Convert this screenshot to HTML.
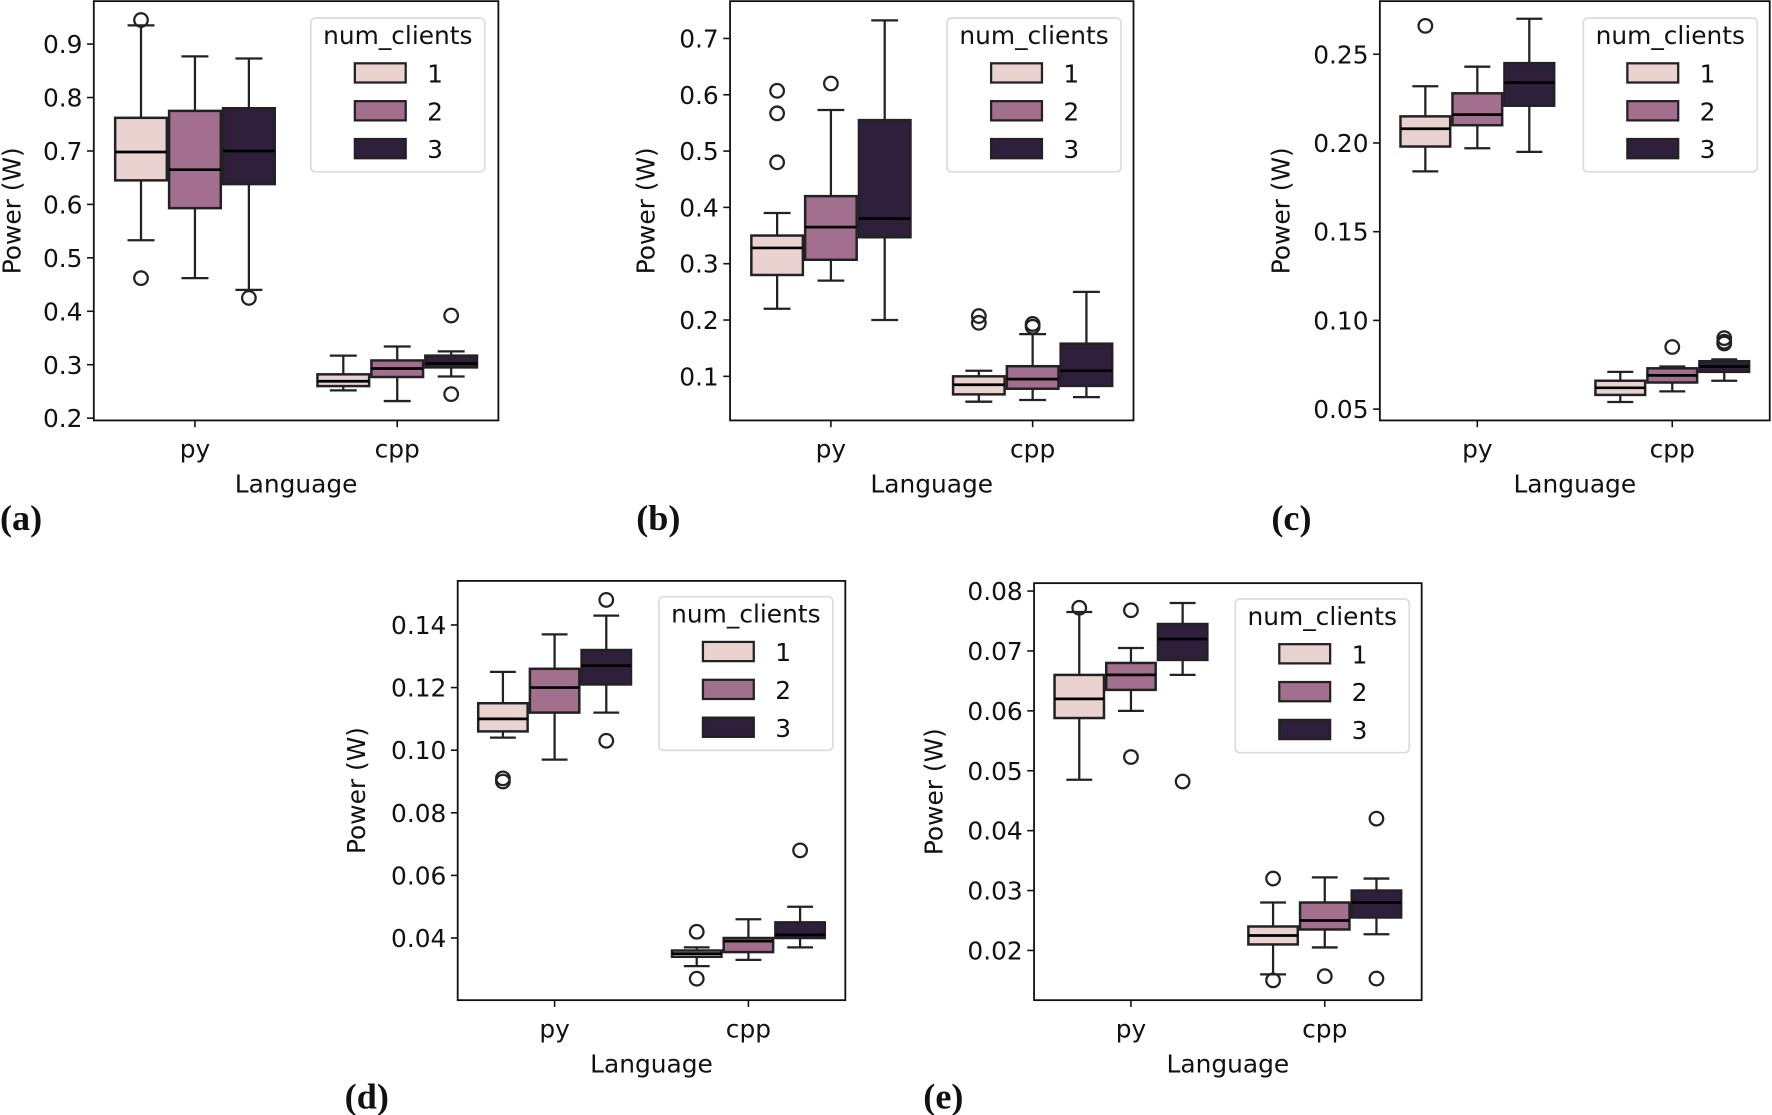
<!DOCTYPE html>
<html><head><meta charset="utf-8"><style>
html,body{margin:0;padding:0;background:#fff;}
svg{display:block;}
text{font-family:"DejaVu Sans","Liberation Sans",sans-serif;fill:#111;}
.pl{font-family:"Liberation Serif",serif;font-weight:bold;}
</style></head><body>
<svg id="fig" width="1772" height="1115" viewBox="0 0 1568 986.6" xmlns="http://www.w3.org/2000/svg"></svg>
<script>
// data: each box = [q1, median, q3, whiskerLow, whiskerHigh]; order py1,py2,py3,cpp1,cpp2,cpp3
const categories = ["py","cpp"];
const hueLevels = ["1","2","3"];
const statsA = [[0.645,0.698,0.762,0.533,0.935],[0.593,0.665,0.775,0.462,0.877],[0.638,0.70,0.78,0.44,0.873],[0.26,0.269,0.282,0.252,0.317],[0.277,0.293,0.308,0.232,0.334],[0.295,0.302,0.317,0.278,0.325]];
const outA = [[0.945,0.462],[],[0.425],[],[],[0.392,0.245]];
const ticksA = [0.2,0.3,0.4,0.5,0.6,0.7,0.8,0.9];
const statsB = [[0.28,0.328,0.35,0.22,0.39],[0.307,0.365,0.42,0.27,0.573],[0.347,0.38,0.555,0.2,0.732],[0.068,0.085,0.1,0.055,0.11],[0.078,0.095,0.118,0.058,0.175],[0.083,0.11,0.158,0.063,0.25]];
const outB = [[0.607,0.567,0.48],[0.62],[],[0.207,0.195],[0.193,0.188],[]];
const ticksB = [0.1,0.2,0.3,0.4,0.5,0.6,0.7];
const statsC = [[0.198,0.208,0.215,0.184,0.232],[0.21,0.216,0.228,0.197,0.243],[0.221,0.234,0.245,0.195,0.27],[0.058,0.062,0.066,0.054,0.071],[0.065,0.069,0.073,0.06,0.074],[0.071,0.074,0.077,0.066,0.078]];
const outC = [[0.266],[],[],[],[0.085],[0.09,0.088,0.087]];
const ticksC = [0.05,0.10,0.15,0.20,0.25];
const statsD = [[0.106,0.11,0.115,0.104,0.125],[0.112,0.12,0.126,0.097,0.137],[0.121,0.127,0.132,0.112,0.143],[0.034,0.035,0.036,0.031,0.037],[0.0355,0.039,0.040,0.033,0.046],[0.040,0.041,0.045,0.037,0.050]];
const outD = [[0.091,0.090],[],[0.148,0.103],[0.042,0.027],[],[0.068]];
const ticksD = [0.04,0.06,0.08,0.10,0.12,0.14];
const statsE = [[0.0588,0.062,0.066,0.0485,0.0765],[0.0635,0.066,0.068,0.060,0.0705],[0.0685,0.072,0.0745,0.066,0.078],[0.021,0.0225,0.024,0.016,0.028],[0.0235,0.025,0.028,0.0205,0.0322],[0.0255,0.028,0.030,0.0227,0.032]];
const outE = [[0.0772],[0.0768,0.0523],[0.0482],[0.032,0.015],[0.0157],[0.042,0.0153]];
const ticksE = [0.02,0.03,0.04,0.05,0.06,0.07,0.08];

const colors = ["#e9d2cf","#a36f8e","#2e1f3b"];
const EDGE = "#222";
const NS = "http://www.w3.org/2000/svg";
const fig = document.getElementById("fig");
function mk(tag, attrs, parent){const e=document.createElementNS(NS,tag);for(const k in attrs)e.setAttribute(k,attrs[k]);(parent||fig).appendChild(e);return e;}

const panels = [
 {id:"a",stats:statsA,out:outA,ticks:ticksA,dec:1,L:83,R:441,T:1,B:372,t0:0.2,p0:370,t1:0.9,p1:39,lab:[0,469],yl:10,leg:[275,16]},
 {id:"b",stats:statsB,out:outB,ticks:ticksB,dec:1,L:646,R:1003,T:1,B:372,t0:0.1,p0:333,t1:0.7,p1:34,lab:[563,469],yl:571,leg:[838,16]},
 {id:"c",stats:statsC,out:outC,ticks:ticksC,dec:2,L:1221,R:1566,T:1,B:372,t0:0.05,p0:362,t1:0.25,p1:48,lab:[1125,469],yl:1133,leg:[1401,16]},
 {id:"d",stats:statsD,out:outD,ticks:ticksD,dec:2,L:405,R:748,T:514,B:885,t0:0.04,p0:830,t1:0.14,p1:553,lab:[305,981],yl:315,leg:[583,528]},
 {id:"e",stats:statsE,out:outE,ticks:ticksE,dec:2,L:915,R:1258,T:516,B:885,t0:0.02,p0:841,t1:0.08,p1:523,lab:[817,981],yl:826,leg:[1093,530]}
];

panels.forEach(p=>{
  const g = mk("g",{});
  
  
  const y = v => p.p0 + (v-p.t0)*(p.p1-p.p0)/(p.t1-p.t0);
  const W = p.R-p.L;
  const step = W/2;
  const xc = i => p.L + step*(i+0.5);
  const bw = step*0.8/3;
  p.stats.forEach((s,k)=>{
    const ci = Math.floor(k/3), hi = k%3;
    const cx = xc(ci) + (hi-1)*bw;
    const bg = mk("g",{},g);
    
    
    const ln = {stroke:EDGE,"stroke-width":2};
    mk("line",Object.assign({x1:cx,x2:cx,y1:y(s[3]),y2:y(s[0])},ln),bg);
    mk("line",Object.assign({x1:cx,x2:cx,y1:y(s[2]),y2:y(s[4])},ln),bg);
    mk("line",Object.assign({x1:cx-bw/4,x2:cx+bw/4,y1:y(s[3]),y2:y(s[3])},ln),bg);
    mk("line",Object.assign({x1:cx-bw/4,x2:cx+bw/4,y1:y(s[4]),y2:y(s[4])},ln),bg);
    mk("rect",{x:cx-bw/2+1,y:y(s[2]),width:bw-2,height:Math.max(1,y(s[0])-y(s[2])),fill:colors[hi],stroke:EDGE,"stroke-width":2.2},bg);
    mk("line",{x1:cx-bw/2+1,x2:cx+bw/2-1,y1:y(s[1]),y2:y(s[1]),stroke:"#000","stroke-width":2.4},bg);
    p.out[k].forEach(v=>{
      const c = mk("circle",{cx:cx,cy:y(v),r:6,fill:"none",stroke:EDGE,"stroke-width":2},bg);
      
      
    });
  });
  const fr = mk("rect",{x:p.L,y:p.T,width:W,height:p.B-p.T,fill:"none",stroke:"#111","stroke-width":1.6},g);
  
  
  p.ticks.forEach(t=>{
    const yy=y(t);
    mk("line",{x1:p.L-6,x2:p.L,y1:yy,y2:yy,stroke:"#111","stroke-width":1.4},g);
    const tx = mk("text",{x:p.L-10,y:yy+8,"text-anchor":"end","font-size":22},g);
    tx.textContent = t.toFixed(p.dec);
    
    
  });
  categories.forEach((c,i)=>{
    mk("line",{x1:xc(i),x2:xc(i),y1:p.B,y2:p.B+6,stroke:"#111","stroke-width":1.4},g);
    const tx = mk("text",{x:xc(i),y:p.B+33,"text-anchor":"middle","font-size":22},g);
    tx.textContent = c;
    
    
  });
  const xl = mk("text",{x:(p.L+p.R)/2,y:p.B+64,"text-anchor":"middle","font-size":22},g);
  xl.textContent = "Language";
  
  
  const ym = (p.T+p.B)/2;
  const yl = mk("text",{x:0,y:0,"text-anchor":"middle","font-size":22,transform:"translate("+(p.yl+8)+","+ym+") rotate(-90)"},g);
  yl.textContent = "Power (W)";
  
  
  const lg = mk("g",{},g);
  
  
  const lx=p.leg[0], ly=p.leg[1];
  mk("rect",{x:lx,y:ly,width:154,height:136,rx:4,fill:"#fff",stroke:"#dcdcdc","stroke-width":1.5},lg);
  const lt = mk("text",{x:lx+77,y:ly+23,"text-anchor":"middle","font-size":22},lg);
  lt.textContent = "num_clients";
  hueLevels.forEach((h,i)=>{
    const ey = ly+48+i*33.5;
    const e = mk("g",{},lg);
    
    
    mk("rect",{x:lx+39,y:ey-8,width:45,height:17,fill:colors[i],stroke:EDGE,"stroke-width":2},e);
    const et = mk("text",{x:lx+103,y:ey+9,"font-size":22},e);
    et.textContent = h;
  });
  const pl = mk("text",{x:p.lab[0],y:p.lab[1],"font-size":32,"class":"pl"},g);
  pl.textContent = "("+p.id+")";
  
  
});
</script>
</body></html>
